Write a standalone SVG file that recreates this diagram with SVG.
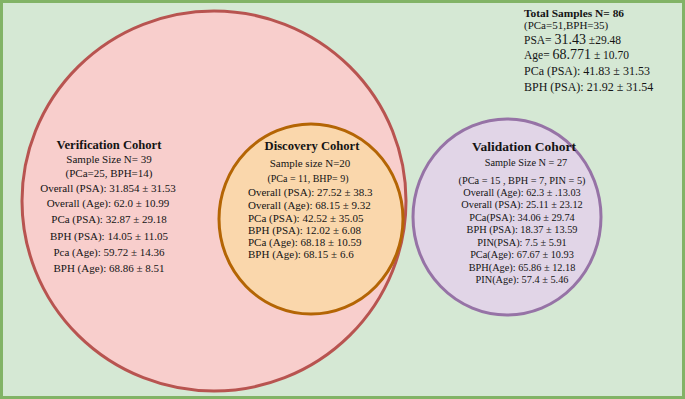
<svg xmlns="http://www.w3.org/2000/svg" width="685" height="399" viewBox="0 0 685 399">
<style>
text{font-family:"Liberation Serif","Times New Roman",serif;fill:#141414}
.t{font-weight:bold;font-size:12.6px}
.b{font-size:11px}
.s{font-size:10px}
.v{font-size:10.3px}
</style>
<rect x="1.5" y="1.5" width="682" height="396" fill="#d5e8d4" stroke="#82b366" stroke-width="3"/>
<g id="verification">
<ellipse cx="214" cy="201" rx="192" ry="190" fill="#f8cecc" stroke="#b85450" stroke-width="3"/>
<g class="b" text-anchor="middle">
<text x="109" y="149" class="t">Verification Cohort</text>
<text x="109" y="163">Sample Size N= 39</text>
<text x="109" y="177">(PCa=25, BPH=14)</text>
<text x="108" y="192">Overall (PSA): 31.854 ± 31.53</text>
<text x="108" y="207">Overall (Age): 62.0 ± 10.99</text>
<text x="109" y="223">PCa (PSA): 32.87 ± 29.18</text>
<text x="109" y="240">BPH (PSA): 14.05 ± 11.05</text>
<text x="109" y="256">Pca (Age): 59.72 ± 14.36</text>
<text x="109" y="272">BPH (Age): 68.86 ± 8.51</text>
</g>
</g>
<g id="discovery">
<ellipse cx="311" cy="219" rx="92" ry="95" fill="#fad7ac" stroke="#b46504" stroke-width="3"/>
<text x="312" y="150" class="t" text-anchor="middle">Discovery Cohort</text>
<text x="310" y="167" class="b" text-anchor="middle">Sample size N=20</text>
<text x="308" y="182" class="s" text-anchor="middle">(PCa = 11, BHP= 9)</text>
<g class="b">
<text x="248" y="196">Overall (PSA): 27.52 ± 38.3</text>
<text x="248" y="209">Overall (Age): 68.15 ± 9.32</text>
<text x="248" y="222">PCa (PSA): 42.52 ± 35.05</text>
<text x="248" y="234">BPH (PSA): 12.02 ± 6.08</text>
<text x="248" y="246">PCa (Age): 68.18 ± 10.59</text>
<text x="248" y="258">BPH (Age): 68.15 ± 6.6</text>
</g>
</g>
<g id="validation">
<ellipse cx="507" cy="217" rx="94" ry="98" fill="#e1d5e7" stroke="#9673a6" stroke-width="3"/>
<g class="v" text-anchor="middle">
<text x="524" y="151" class="t" style="font-size:13.5px">Validation Cohort</text>
<text x="526" y="166">Sample Size N = 27</text>
<text x="522" y="184">(PCa = 15 , BPH = 7, PIN = 5)</text>
<text x="522" y="196">Overall (Age): 62.3 ± .13.03</text>
<text x="522" y="208">Overall (PSA): 25.11 ± 23.12</text>
<text x="522" y="221">PCa(PSA): 34.06 ± 29.74</text>
<text x="522" y="233">BPH (PSA): 18.37 ± 13.59</text>
<text x="522" y="246">PIN(PSA): 7.5 ± 5.91</text>
<text x="522" y="258">PCa(Age): 67.67 ± 10.93</text>
<text x="522" y="271">BPH(Age): 65.86 ± 12.18</text>
<text x="522" y="283">PIN(Age): 57.4 ± 5.46</text>
</g>
</g>
<g id="total">
<text x="524" y="17" class="t" style="font-size:11.4px">Total Samples N= 86</text>
<text x="524" y="29" class="b">(PCa=51,BPH=35)</text>
<text x="524" y="44" style="font-size:11.5px">PSA= <tspan style="font-size:14px">31.43</tspan> ±29.48</text>
<text x="524" y="59" style="font-size:11.5px">Age= <tspan style="font-size:14px">68.771</tspan> ± 10.70</text>
<text x="524" y="75" style="font-size:12px">PCa (PSA): 41.83 ± 31.53</text>
<text x="524" y="91" style="font-size:12px">BPH (PSA): 21.92 ± 31.54</text>
</g>
<g id="connectors"/>
</svg>
